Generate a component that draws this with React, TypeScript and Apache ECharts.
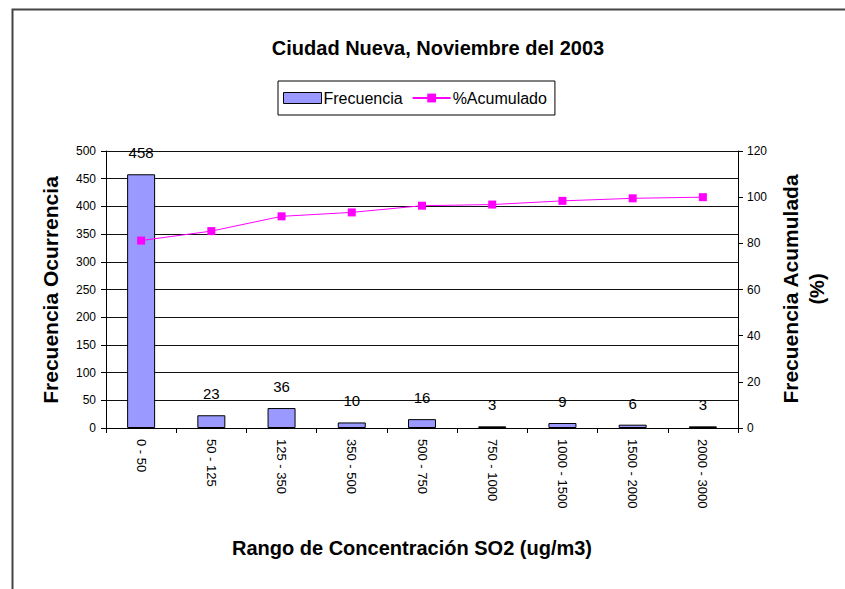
import React, { useEffect, useRef } from "react";
import * as echarts from "echarts";

const categories = ["0 - 50", "50 - 125", "125 - 350", "350 - 500", "500 - 750", "750 - 1000", "1000 - 1500", "1500 - 2000", "2000 - 3000"];
const frecuencia = [458, 23, 36, 10, 16, 3, 9, 6, 3];
const acumulado = [81.2, 85.3, 91.7, 93.4, 96.3, 96.8, 98.4, 99.5, 100];
const leftTicks = { min: 0, max: 500, interval: 50 };
const rightTicks = { min: 0, max: 120, interval: 20 };

const FONT = "Liberation Sans, Arial, sans-serif";

export default function App() {
  const ref = useRef<HTMLDivElement>(null);
  useEffect(() => {
    if (!ref.current) return;
    const chart = echarts.init(ref.current, null, { renderer: "svg" });
    chart.setOption({
      animation: false,
      backgroundColor: "#ffffff",
      title: {
        text: "Ciudad Nueva, Noviembre del 2003",
        left: 433,
        top: 33,
        textAlign: "center",
        textStyle: { fontFamily: FONT, fontSize: 20, fontWeight: "bold", color: "#000" },
      },
      legend: {
        left: 278,
        top: 81,
        itemGap: 9,
        padding: [9, 8, 9, 5],
        borderColor: "#000",
        borderWidth: 1,
        itemWidth: 38,
        itemHeight: 11,
        textStyle: { fontFamily: FONT, fontSize: 16, color: "#000", padding: [0, 0, 0, -3] },
        data: [
          { name: "Frecuencia", icon: "rect", itemStyle: { color: "#9999FF", borderColor: "#000", borderWidth: 1 } },
          { name: "%Acumulado" },
        ],
      },
      grid: { left: 106, right: 107, top: 151, bottom: 161, containLabel: false },
      xAxis: {
        type: "category",
        data: categories,
        axisLine: { lineStyle: { color: "#000", width: 1 } },
        axisTick: { show: true, length: 5, lineStyle: { color: "#000" } },
        axisLabel: { rotate: -90, fontFamily: FONT, fontSize: 13, color: "#000", margin: 11 },
      },
      yAxis: [
        {
          type: "value",
          ...leftTicks,
          axisLine: { show: true, lineStyle: { color: "#000" } },
          axisTick: { show: true, length: 5, lineStyle: { color: "#000" } },
          axisLabel: { fontFamily: FONT, fontSize: 12, color: "#000", margin: 10 },
          splitLine: { show: true, lineStyle: { color: "#111", width: 1.2 } },
        },
        {
          type: "value",
          ...rightTicks,
          position: "right",
          axisLine: { show: true, lineStyle: { color: "#000" } },
          axisTick: { show: true, length: 5, lineStyle: { color: "#000" } },
          axisLabel: { fontFamily: FONT, fontSize: 12, color: "#000", margin: 9 },
          splitLine: { show: false },
        },
      ],
      series: [
        {
          name: "Frecuencia",
          type: "bar",
          data: frecuencia,
          barWidth: 28,
          itemStyle: { color: "#9999FF", borderColor: "#000", borderWidth: 1 },
          label: { show: true, position: "top", distance: 14, fontFamily: FONT, fontSize: 15, color: "#000" },
        },
        {
          name: "%Acumulado",
          type: "line",
          yAxisIndex: 1,
          data: acumulado,
          symbol: "rect",
          symbolSize: 8,
          lineStyle: { color: "#FF00FF", width: 1 },
          itemStyle: { color: "#FF00FF" },
        },
      ],
      graphic: [
        {
          type: "rect",
          left: 10,
          top: 7,
          shape: { width: 900, height: 650 },
          style: { fill: "none", stroke: "#444", lineWidth: 2 },
          silent: true,
          z: -1,
        },
        {
          type: "text",
          x: 50,
          y: 290,
          rotation: Math.PI / 2,
          style: { text: "Frecuencia Ocurrencia", fontFamily: FONT, fontSize: 21, fontWeight: "bold", fill: "#000", textAlign: "center", textVerticalAlign: "middle" },
        },
        {
          type: "text",
          x: 790,
          y: 289,
          rotation: Math.PI / 2,
          style: { text: "Frecuencia Acumulada", fontFamily: FONT, fontSize: 21, fontWeight: "bold", fill: "#000", textAlign: "center", textVerticalAlign: "middle" },
        },
        {
          type: "text",
          x: 817,
          y: 289,
          rotation: Math.PI / 2,
          style: { text: "(%)", fontFamily: FONT, fontSize: 20, fontWeight: "bold", fill: "#000", textAlign: "center", textVerticalAlign: "middle" },
        },
        {
          type: "text",
          x: 412,
          y: 548,
          style: { text: "Rango de Concentración SO2 (ug/m3)", fontFamily: FONT, fontSize: 20, fontWeight: "bold", fill: "#000", textAlign: "center", textVerticalAlign: "middle" },
        },
      ],
    });
    return () => chart.dispose();
  }, []);
  return <div ref={ref} style={{ position: "fixed", left: 0, top: 0, width: 845, height: 589 }} />;
}
